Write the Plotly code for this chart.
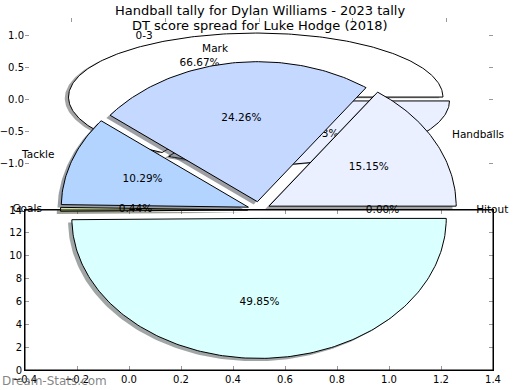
import numpy as np
import plotly.graph_objects as go

# ---------------- data ----------------
main_labels = ["Handballs", "Mark", "Tackle", "Goals", "Kicks", "Hitout"]
main_values = [103, 165, 70, 3, 339, 0]

dt_labels = ["0-3", ""]
dt_values = [2, 1]

title_lines = ["Handball tally for Dylan Williams - 2023 tally",
               "DT score spread for Luke Hodge (2018)"]

bottom_x_ticks = [-0.4, -0.2, 0.0, 0.2, 0.4, 0.6, 0.8, 1.0, 1.2, 1.4]
bottom_y_ticks = [0, 2, 4, 6, 8, 10, 12, 14]
top_x_ticks = [-1.0, -0.5, 0.0, 0.5, 1.0]
top_y_ticks = [-1.0, -0.5, 0.0, 0.5, 1.0]

# ---------------- styles ----------------
main_colors = ["#eaf0ff", "#c5d8ff", "#b3d4ff", "#d3e4a2", "#d9ffff", "#f0f0f0"]
dt_colors = ["#ffffff", "#eaf0ff"]
FONT = "DejaVu Sans"


def hex_rgb(h):
    h = h.lstrip("#")
    return tuple(int(h[i:i + 2], 16) for i in (0, 2, 4))


def add_pie(fig, labels, values, colors, explode, xa, ya, start=0.0,
            label_dist=1.1, pct_dist=0.6):
    total = float(sum(values))
    theta = start
    geo = []
    for lab, v, c, e in zip(labels, values, colors, explode):
        span = 360.0 * v / total
        t1, t2 = theta, theta + span
        theta = t2
        mid = np.radians((t1 + t2) / 2.0)
        cx, cy = e * np.cos(mid), e * np.sin(mid)
        geo.append((lab, v, c, t1, t2, mid, cx, cy))
    # shadows first (below all wedges)
    for lab, v, c, t1, t2, mid, cx, cy in geo:
        if v <= 0:
            continue
        ts = np.radians(np.linspace(t1, t2, max(int(t2 - t1), 2) + 1))
        xs = np.concatenate([[cx], cx + np.cos(ts), [cx]]) - 0.02
        ys = np.concatenate([[cy], cy + np.sin(ts), [cy]]) - 0.02
        r, g, b = hex_rgb(c)
        fig.add_trace(go.Scatter(x=xs, y=ys, xaxis=xa, yaxis=ya, mode="lines",
                                 fill="toself", line=dict(width=0),
                                 fillcolor=f"rgba({int(r*0.3)},{int(g*0.3)},{int(b*0.3)},0.5)",
                                 hoverinfo="skip", showlegend=False))
    for lab, v, c, t1, t2, mid, cx, cy in geo:
        if v <= 0:
            continue
        ts = np.radians(np.linspace(t1, t2, max(int(t2 - t1), 2) + 1))
        xs = np.concatenate([[cx], cx + np.cos(ts), [cx]])
        ys = np.concatenate([[cy], cy + np.sin(ts), [cy]])
        fig.add_trace(go.Scatter(x=xs, y=ys, xaxis=xa, yaxis=ya, mode="lines",
                                 fill="toself", fillcolor=c,
                                 line=dict(color="black", width=1),
                                 hoverinfo="skip", showlegend=False))
    # texts
    tx, ty, tt, tp = [], [], [], []
    for lab, v, c, t1, t2, mid, cx, cy in geo:
        px, py = cx + pct_dist * np.cos(mid), cy + pct_dist * np.sin(mid)
        tx.append(px); ty.append(py); tt.append(f"{100.0*v/total:.2f}%"); tp.append("middle center")
        if lab:
            lx, ly = cx + label_dist * np.cos(mid), cy + label_dist * np.sin(mid)
            tx.append(lx); ty.append(ly); tt.append(lab)
            tp.append("middle right" if lx > 0 else "middle left")
    fig.add_trace(go.Scatter(x=tx, y=ty, xaxis=xa, yaxis=ya, mode="text",
                             text=tt, textposition=tp, cliponaxis=False,
                             textfont=dict(family=FONT, size=10.5, color="black"),
                             hoverinfo="skip", showlegend=False))


fig = go.Figure()

# empty trace so the lower (cartesian) axes are created
fig.add_trace(go.Scatter(x=[None], y=[None], xaxis="x", yaxis="y", mode="markers",
                         hoverinfo="skip", showlegend=False))
# DT score spread pie (upper axes)
add_pie(fig, dt_labels, dt_values, dt_colors, [0.035, 0.035], "x2", "y2")
# main tally pie (figure-wide overlay axes)
add_pie(fig, main_labels, main_values, main_colors, [0.06] * 6, "x3", "y3")

W, H = 520, 390
L, R, T, B = 25, 27, 18, 20
plot_h = H - T - B
split = (370 - 210) / plot_h

tick_common = dict(ticks="inside", ticklen=4, tickcolor="#999999", tickwidth=1,
                   showgrid=False, zeroline=False, automargin=False,
                   tickfont=dict(family=FONT, size=10, color="black"))

fig.update_layout(
    template="none",
    width=W, height=H,
    margin=dict(l=L, r=R, t=T, b=B, autoexpand=False),
    paper_bgcolor="white", plot_bgcolor="rgba(0,0,0,0)",
    showlegend=False,
    hovermode=False,
    xaxis=dict(domain=[0, 1], anchor="y", range=[-0.4, 1.4], tickvals=bottom_x_ticks,
               tickformat=".1f", showline=True, linecolor="black", linewidth=1,
               mirror="ticks", **tick_common),
    yaxis=dict(domain=[0, split], anchor="x", range=[0, 14], tickvals=bottom_y_ticks,
               showline=True, linecolor="black", linewidth=1, mirror="ticks", **tick_common),
    xaxis2=dict(domain=[0, 1], anchor="y2", range=[-1.25, 1.25], tickvals=top_x_ticks,
                side="top", showticklabels=False, showline=False, **tick_common),
    yaxis2=dict(domain=[split, 1], anchor="x2", range=[-(210 - 99) / 64, (99 - 18) / 64],
                tickvals=top_y_ticks, tickformat=".1f", showline=False,
                mirror="ticks", **tick_common),
    xaxis3=dict(domain=[0, 1], anchor="y3", range=[-1.25, 1.25], visible=False),
    yaxis3=dict(domain=[0, 1], anchor="x3", range=[-(370 - 210) / 140, (210 - 18) / 140],
                visible=False),
    shapes=[dict(type="rect", xref="x domain", yref="y domain", x0=0, x1=1, y0=0, y1=1,
                 line=dict(color="black", width=1), layer="above")],
)

for i, line in enumerate(title_lines):
    py = 10 + 15 * i
    fig.add_annotation(text=line, xref="paper", yref="paper",
                       x=(260 - L) / (W - L - R), y=(370 - py) / plot_h,
                       xanchor="center", yanchor="middle", showarrow=False,
                       font=dict(family=FONT, size=13, color="black"))

fig.add_annotation(text="Dream-Stats.com", xref="paper", yref="paper",
                   x=(0 - L) / (W - L - R), y=(370 - 381) / plot_h,
                   xanchor="left", yanchor="middle", showarrow=False,
                   font=dict(family=FONT, size=12, color="rgba(100,100,100,0.8)"))

fig.write_html("out.html", config={"displayModeBar": False, "staticPlot": True},
               post_script="document.body.style.margin='0';")
